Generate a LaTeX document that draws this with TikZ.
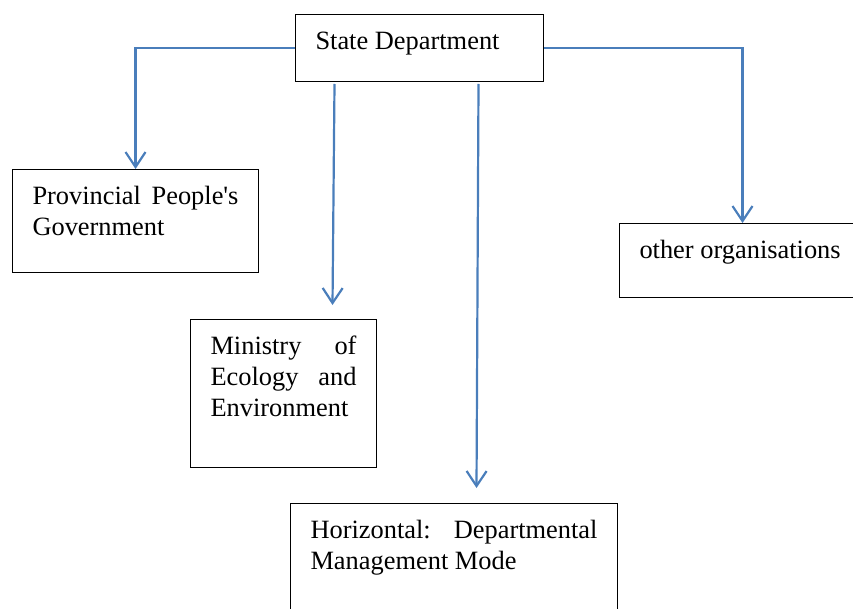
\documentclass[tikz,border=0pt]{standalone}
\usepackage{fontspec}
\setmainfont{Liberation Serif}
\usetikzlibrary{arrows.meta}

\definecolor{linkblue}{HTML}{4A7EBB}

\tikzset{
  orgbox/.style 2 args={draw, line width=1pt, inner xsep=20pt, inner ysep=13pt, anchor=north west,
    font={\fontsize{26.4}{31}\selectfont},
    execute at begin node={\begin{minipage}[t][#2][t]{#1}\sloppy\hyphenpenalty=10000\strut},
    execute at end node={\end{minipage}}},
  link/.style={draw=linkblue, line width=2.2pt, -{Straight Barb[length=15pt,width=20pt]}}
}

\begin{document}
\begin{tikzpicture}[x=1pt, y=-1pt]
  \useasboundingbox (0,0) rectangle (853,609);

  \node[orgbox={208pt}{41pt}] (state) at (295,14) {State Department}; % top
  \node[orgbox={206pt}{77pt}] (prov) at (12,169) {Provincial People\textquotesingle s Government};
  \node[orgbox={146pt}{122pt}] (min) at (190,319) {Ministry of Ecology and Environment};
  \node[orgbox={287pt}{140pt}] (hor) at (290,503) {Horizontal: Departmental Management Mode};
  \node[orgbox={206pt}{48pt}] (other) at (619,223) {other organisations};

  \draw[link] (state.west) -| (prov.north);
  \draw[link] (state.east) -| (other.north);
  \draw[link] ([xshift=-85pt, yshift=-2pt]state.south) -- ([xshift=49pt, yshift=14pt]min.north);
  \draw[link] ([xshift=59pt, yshift=-2pt]state.south) -- ([xshift=22.5pt, yshift=15pt]hor.north);
\end{tikzpicture}
\end{document}
